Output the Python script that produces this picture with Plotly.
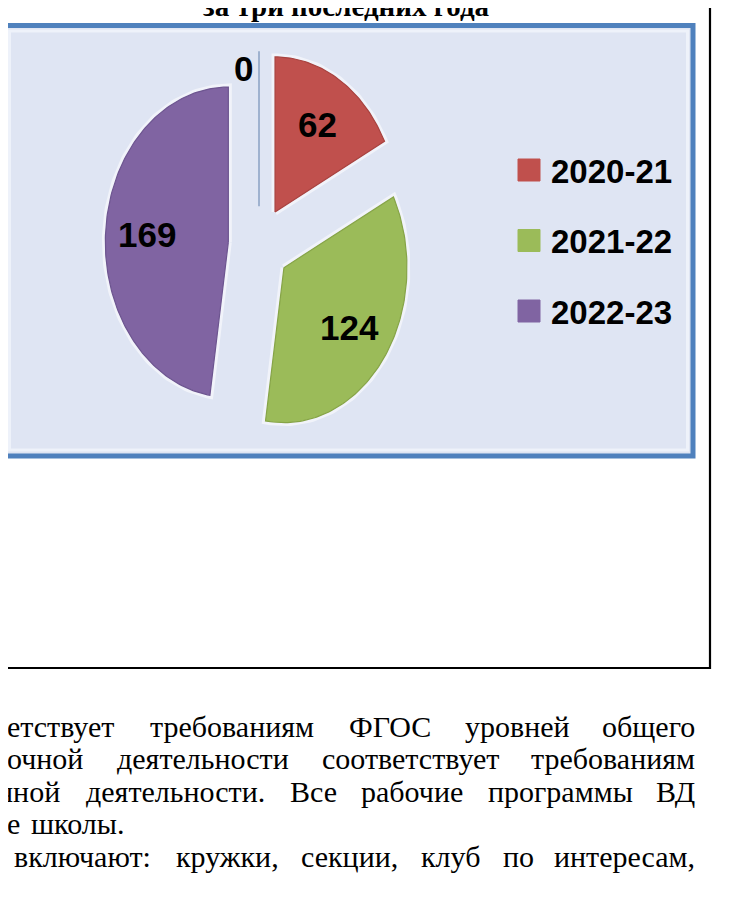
import math
import plotly.graph_objects as go

W, H = 738, 910

# ---- data ----
categories = ["", "2020-21", "2021-22", "2022-23"]
values = [0, 62, 124, 169]
slice_colors = ["#4f81bd", "#c0504d", "#9bbb59", "#8064a2"]
slice_edges = ["#9fb2cf", "#a8423f", "#86a447", "#6d5590"]
legend_items = ["2020-21", "2021-22", "2022-23"]
legend_colors = ["#c0504d", "#9bbb59", "#8064a2"]
title_text = "за три последних года"
body_lines = [
    ["етствует", "требованиям", "ФГОС", "уровней", "общего"],
    ["очной", "деятельности", "соответствует", "требованиям"],
    ["чной", "деятельности.", "Все", "рабочие", "программы", "ВД"],
    ["е", "школы."],
    ["включают:", "кружки,", "секции,", "клуб", "по", "интересам,"],
]

# ---- layout constants ----
CX, CY = 251, 237
RX, RY = 123, 155
EXPLODE = 0.25
LABEL_R = 0.66
NUM_FONT = "Liberation Sans, Arial, sans-serif"
SERIF = "Liberation Serif, Times New Roman, serif"

fig = go.Figure()

total = sum(values)
start = 0.0
label_annots = []
for i, v in enumerate(values):
    span = v / total * 2 * math.pi
    a0, a1 = start, start + span
    bis = (a0 + a1) / 2
    vx = CX + RX * EXPLODE * math.sin(bis)
    vy = CY - RY * EXPLODE * math.cos(bis)
    if v == 0:
        xs = [vx, vx + RX * math.sin(a0)]
        ys = [vy, vy - RY * math.cos(a0)]
        fig.add_trace(go.Scatter(x=xs, y=ys, mode="lines",
                                 line=dict(color=slice_edges[i], width=2),
                                 hoverinfo="skip"))
        la = bis - math.radians(8)
        lx = vx + RX * 0.9 * math.sin(la)
        ly = vy - RY * 0.9 * math.cos(la)
    else:
        n = max(8, int(span / 0.02))
        xs = [vx] + [vx + RX * math.sin(a0 + (a1 - a0) * k / n) for k in range(n + 1)] + [vx]
        ys = [vy] + [vy - RY * math.cos(a0 + (a1 - a0) * k / n) for k in range(n + 1)] + [vy]
        fig.add_trace(go.Scatter(x=xs, y=ys, mode="lines",
                                 line=dict(color="rgba(255,255,255,0.55)", width=7),
                                 hoverinfo="skip"))
        fig.add_trace(go.Scatter(x=xs, y=ys, mode="lines", fill="toself",
                                 fillcolor=slice_colors[i],
                                 line=dict(color=slice_edges[i], width=1.2),
                                 name=categories[i], hoverinfo="skip"))
        lx = vx + RX * LABEL_R * math.sin(bis)
        ly = vy - RY * LABEL_R * math.cos(bis)
    label_annots.append(dict(x=lx, y=ly, xref="x", yref="y", text="<b>%d</b>" % v,
                             showarrow=False, xanchor="center", yanchor="middle",
                             font=dict(family=NUM_FONT, size=35, color="#000000")))
    start = a1

shapes = []
# outer black frame
shapes.append(dict(type="rect", xref="x", yref="y", x0=-10, y0=-10, x1=702, y1=660,
                   line=dict(color="#000000", width=2.2), fillcolor="rgba(0,0,0,0)",
                   layer="below"))
# chart area
shapes.append(dict(type="rect", xref="x", yref="y", x0=-4, y0=17.5, x1=685, y1=448,
                   line=dict(color="#4f81bd", width=5), fillcolor="#dfe5f3", layer="below"))
shapes.append(dict(type="rect", xref="x", yref="y", x0=1.5, y0=23, x1=679.5, y1=442,
                   line=dict(color="#eef2fa", width=3), fillcolor="rgba(0,0,0,0)",
                   layer="below"))

annots = list(label_annots)

# legend
for i, (lab, col) in enumerate(zip(legend_items, legend_colors)):
    cy = 162 + i * 70.5
    shapes.append(dict(type="rect", xref="x", yref="y", x0=510, x1=532,
                       y0=cy - 11, y1=cy + 11, fillcolor=col,
                       line=dict(color=col, width=1), layer="above"))
    annots.append(dict(x=541, y=cy + 1, xref="x", yref="y", text="<b>%s</b>" % lab,
                       showarrow=False, xanchor="left", yanchor="middle",
                       font=dict(family=NUM_FONT, size=33, color="#000000")))

# title (cut off at the top of the picture)
annots.append(dict(x=338, y=16, xref="x", yref="y", text="<b>%s</b>" % title_text,
                   showarrow=False, xanchor="center", yanchor="bottom",
                   font=dict(family=SERIF, size=29, color="#000000")))

# body text, justified word by word
CW = {"а": .444, "б": .5, "в": .472, "г": .41, "д": .5, "е": .444, "ж": .69, "з": .395,
      "и": .535, "й": .535, "к": .486, "л": .5, "м": .63, "н": .535, "о": .5, "п": .535,
      "р": .5, "с": .444, "т": .437, "у": .5, "ф": .64, "х": .5, "ц": .535, "ч": .5,
      "ш": .77, "щ": .77, "ы": .69, "ь": .46, "э": .44, "ю": .72, "я": .48,
      "В": .667, "Д": .66, "Ф": .8, "Г": .61, "О": .72, "С": .667,
      ".": .25, ",": .25, ":": .278}
BODY_SIZE = 30
RIGHT = 689
TOP_LINE = 718
PITCH = 32.5
line_layout = [(0, RIGHT), (0, RIGHT), (-8, RIGHT), (1, None), (8, RIGHT)]


def est_w(word):
    return sum(CW.get(c, .5) for c in word) * BODY_SIZE


for li, (words, (xs0, xe)) in enumerate(zip(body_lines, line_layout)):
    yy = TOP_LINE + li * PITCH
    widths = [est_w(w) for w in words]
    if xe is None:
        gap = 0.25 * BODY_SIZE
    else:
        gap = (xe - xs0 - sum(widths)) / (len(words) - 1)
    x = xs0
    for j, (wd, w) in enumerate(zip(widths, words)):
        if j == 0:
            ax, anc = x + wd, "right"
        elif j == len(words) - 1 and xe is not None:
            ax, anc = xe, "right"
        else:
            ax, anc = x + wd / 2, "center"
        annots.append(dict(x=ax, y=yy, xref="x", yref="y", text=w, showarrow=False,
                           xanchor=anc, yanchor="middle",
                           font=dict(family=SERIF, size=BODY_SIZE, color="#000000")))
        x += wd + gap

fig.update_layout(
    width=W, height=H, margin=dict(l=0, r=0, t=0, b=0),
    paper_bgcolor="#ffffff", plot_bgcolor="#ffffff", showlegend=False,
    xaxis=dict(range=[0, W], visible=False, fixedrange=True),
    yaxis=dict(range=[H, 0], visible=False, fixedrange=True),
    shapes=shapes, annotations=annots,
)

fig.write_html("out.html")
